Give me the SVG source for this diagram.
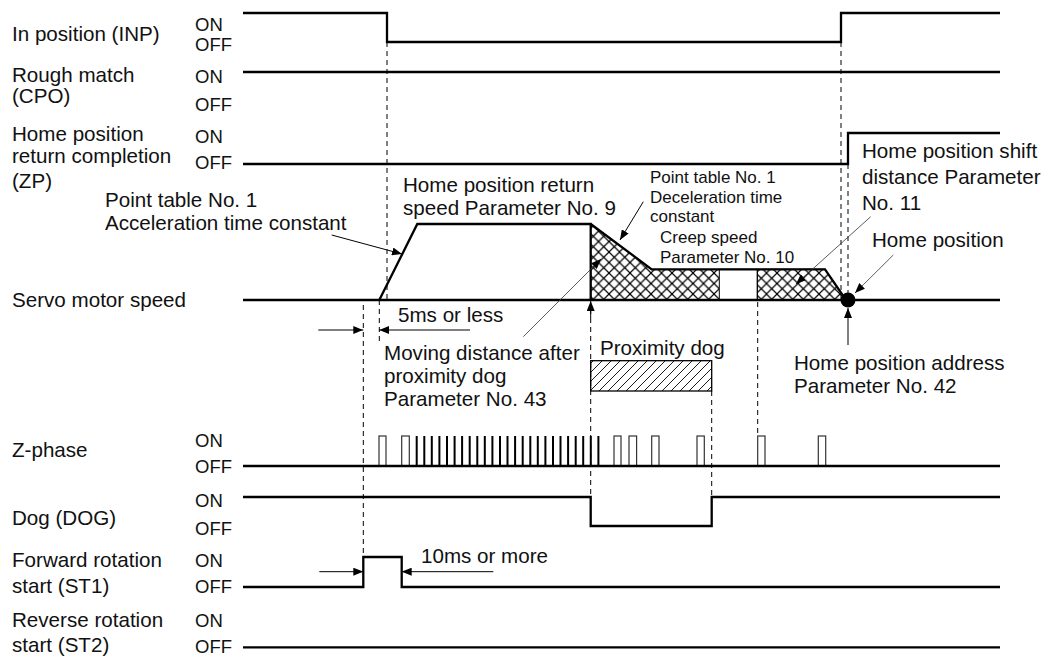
<svg xmlns="http://www.w3.org/2000/svg" width="1049" height="659" viewBox="0 0 1049 659">
<style>
text{font-family:"Liberation Sans",Arial,sans-serif;fill:#111}
.lb{font-size:20.6px}
.oo{font-size:18.5px}
.sm{font-size:17px}
.sig{fill:none;stroke:#000;stroke-width:2.3}
.dash{fill:none;stroke:#000;stroke-width:1;stroke-dasharray:5,4}
.thin{fill:none;stroke:#000;stroke-width:1}
.lead{fill:none;stroke:#333;stroke-width:0.8}
.pl{fill:#fff;stroke:#333;stroke-width:1.2}
</style>
<defs>
<pattern id="xh" patternUnits="userSpaceOnUse" width="10.5" height="10.5">
<path d="M0,0 L10.5,10.5 M10.5,0 L0,10.5" stroke="#000" stroke-width="1.2"/>
</pattern>
<pattern id="sh" patternUnits="userSpaceOnUse" width="9" height="9">
<path d="M0,9 L9,0 M-2.25,2.25 L2.25,-2.25 M6.75,11.25 L11.25,6.75" stroke="#000" stroke-width="0.9"/>
</pattern>
<marker id="ah" markerUnits="userSpaceOnUse" markerWidth="10" markerHeight="8" refX="10" refY="4" orient="auto">
<path d="M0,0 L10,4 L0,8 z" fill="#000"/>
</marker>
</defs>

<g id="inp">
<text class="lb" x="12" y="41">In position (INP)</text>
<text class="oo" x="195" y="31">ON</text>
<text class="oo" x="195" y="51">OFF</text>
<path class="sig" d="M243,13 H387 V42 H841 V13 H1000"/>
</g>

<g id="cpo">
<text class="lb" x="12" y="82">Rough match</text>
<text class="lb" x="12" y="103">(CPO)</text>
<text class="oo" x="195" y="83">ON</text>
<text class="oo" x="195" y="111">OFF</text>
<path class="sig" d="M243,72 H1000"/>
</g>

<g id="zp">
<text class="lb" x="12" y="141">Home position</text>
<text class="lb" x="12" y="163">return completion</text>
<text class="lb" x="12" y="188">(ZP)</text>
<text class="oo" x="195" y="143">ON</text>
<text class="oo" x="195" y="169">OFF</text>
<path class="sig" d="M243,164 H848 V133 H1000"/>
</g>

<g id="speed">
<text class="lb" x="12" y="307">Servo motor speed</text>
<polygon points="590.7,224 651.7,269.3 719.3,269.3 719.3,300 590.7,300" fill="url(#xh)"/>
<rect x="719.3" y="269.3" width="38" height="30.7" fill="#fff" stroke="#000" stroke-width="1"/>
<polygon points="757.3,269.3 825,269.3 846,300 757.3,300" fill="url(#xh)" stroke="#000" stroke-width="1"/>
<path class="sig" d="M243,300 H1000"/>
<path class="sig" d="M379.3,300 L417.3,224 H590.7 V300 M590.7,224 L651.7,269.3 H825 L846,300"/>
<circle cx="848" cy="300" r="7.5" fill="#000"/>
</g>

<g id="zphase">
<text class="lb" x="12" y="457">Z-phase</text>
<text class="oo" x="195" y="447">ON</text>
<text class="oo" x="195" y="473">OFF</text>
<g>
<rect class="pl" x="379" y="436" width="7" height="30"/>
<rect class="pl" x="401.7" y="436" width="7.6" height="30"/>
<rect class="pl" x="614" y="436" width="7" height="30"/>
<rect class="pl" x="629" y="436" width="7.6" height="30"/>
<rect class="pl" x="651.7" y="436" width="7.3" height="30"/>
<rect class="pl" x="697" y="436" width="7.3" height="30"/>
<rect class="pl" x="757.7" y="436" width="7.3" height="30"/>
<rect class="pl" x="818.3" y="436" width="7.4" height="30"/>
</g>
<path fill="none" stroke="#000" stroke-width="2" d="M416.7,436V466 M424.3,436V466 M431.8,436V466 M439.4,436V466 M447,436V466 M454.6,436V466 M462.1,436V466 M469.7,436V466 M477.3,436V466 M484.8,436V466 M492.4,436V466 M500,436V466 M507.5,436V466 M515.1,436V466 M522.7,436V466 M530.3,436V466 M537.8,436V466 M545.4,436V466 M553,436V466 M560.5,436V466 M568.1,436V466 M575.7,436V466 M583.2,436V466 M590.8,436V466 M598.4,436V466"/>
<path class="sig" d="M243,466 H1000"/>
</g>

<g id="dog">
<text class="lb" x="12" y="525">Dog (DOG)</text>
<text class="oo" x="195" y="507">ON</text>
<text class="oo" x="195" y="535">OFF</text>
<path class="sig" d="M243,497 H590.7 V526 H711.7 V497 H1000"/>
</g>

<g id="st1">
<text class="lb" x="12" y="567">Forward rotation</text>
<text class="lb" x="12" y="593">start (ST1)</text>
<text class="oo" x="195" y="567">ON</text>
<text class="oo" x="195" y="593">OFF</text>
<path class="sig" d="M243,587 H363.3 V557 H401.7 V587 H1000"/>
</g>

<g id="st2">
<text class="lb" x="12" y="627">Reverse rotation</text>
<text class="lb" x="12" y="652">start (ST2)</text>
<text class="oo" x="195" y="627">ON</text>
<text class="oo" x="195" y="653">OFF</text>
<path class="sig" d="M243,647.3 H1000"/>
</g>

<g id="proximity-dog">
<text class="lb" x="600" y="355">Proximity dog</text>
<rect x="590.7" y="360.7" width="121" height="30.3" fill="url(#sh)" stroke="#000" stroke-width="1.3"/>
</g>

<g id="annotations">
<text class="lb" x="105" y="207">Point table No. 1</text>
<text class="lb" x="105" y="230">Acceleration time constant</text>
<text class="lb" x="403" y="192">Home position return</text>
<text class="lb" x="403" y="215">speed Parameter No. 9</text>
<text class="sm" x="650" y="183">Point table No. 1</text>
<text class="sm" x="650" y="203">Deceleration time</text>
<text class="sm" x="650" y="222">constant</text>
<text class="sm" x="660" y="243">Creep speed</text>
<text class="sm" x="660" y="263">Parameter No. 10</text>
<text class="lb" x="862" y="158">Home position shift</text>
<text class="lb" x="862" y="184">distance Parameter</text>
<text class="lb" x="862" y="210">No. 11</text>
<text class="lb" x="872" y="247">Home position</text>
<text class="lb" x="398" y="322">5ms or less</text>
<text class="lb" x="384" y="360">Moving distance after</text>
<text class="lb" x="384" y="383">proximity dog</text>
<text class="lb" x="384" y="406">Parameter No. 43</text>
<text class="lb" x="794" y="370">Home position address</text>
<text class="lb" x="794" y="393">Parameter No. 42</text>
<text class="lb" x="421" y="563">10ms or more</text>
</g>

<g id="connectors">
<path class="dash" d="M387,42 V300"/>
<path class="dash" d="M841,42 V300"/>
<path class="dash" d="M848,164 V293"/>
<path class="dash" d="M363.3,305 V557"/>
<path class="dash" d="M379.3,300 V342"/>
<path class="dash" d="M590.7,309 V497"/>
<path class="dash" d="M711.7,391 V497"/>
<path class="dash" d="M757.7,302 V436"/>
<path class="thin" marker-end="url(#ah)" d="M331.7,235 L402,254"/>
<path class="thin" marker-end="url(#ah)" d="M643.3,201.7 L620,240"/>
<path class="lead" marker-end="url(#ah)" d="M523.3,336.7 L601,259"/>
<path class="lead" marker-end="url(#ah)" d="M870.7,216.7 L796,284"/>
<path class="lead" marker-end="url(#ah)" d="M893.3,255 L855,293"/>
<path class="thin" marker-end="url(#ah)" d="M848,345 V308"/>
<path class="thin" marker-end="url(#ah)" d="M590.7,318 V301"/>
<path class="thin" marker-end="url(#ah)" d="M318.3,330 H363.3"/>
<path class="thin" marker-end="url(#ah)" d="M470,330 H379.3"/>
<path class="thin" marker-end="url(#ah)" d="M319.3,571.7 H363.3"/>
<path class="thin" marker-end="url(#ah)" d="M493.3,571.7 H401.7"/>
</g>
</svg>
